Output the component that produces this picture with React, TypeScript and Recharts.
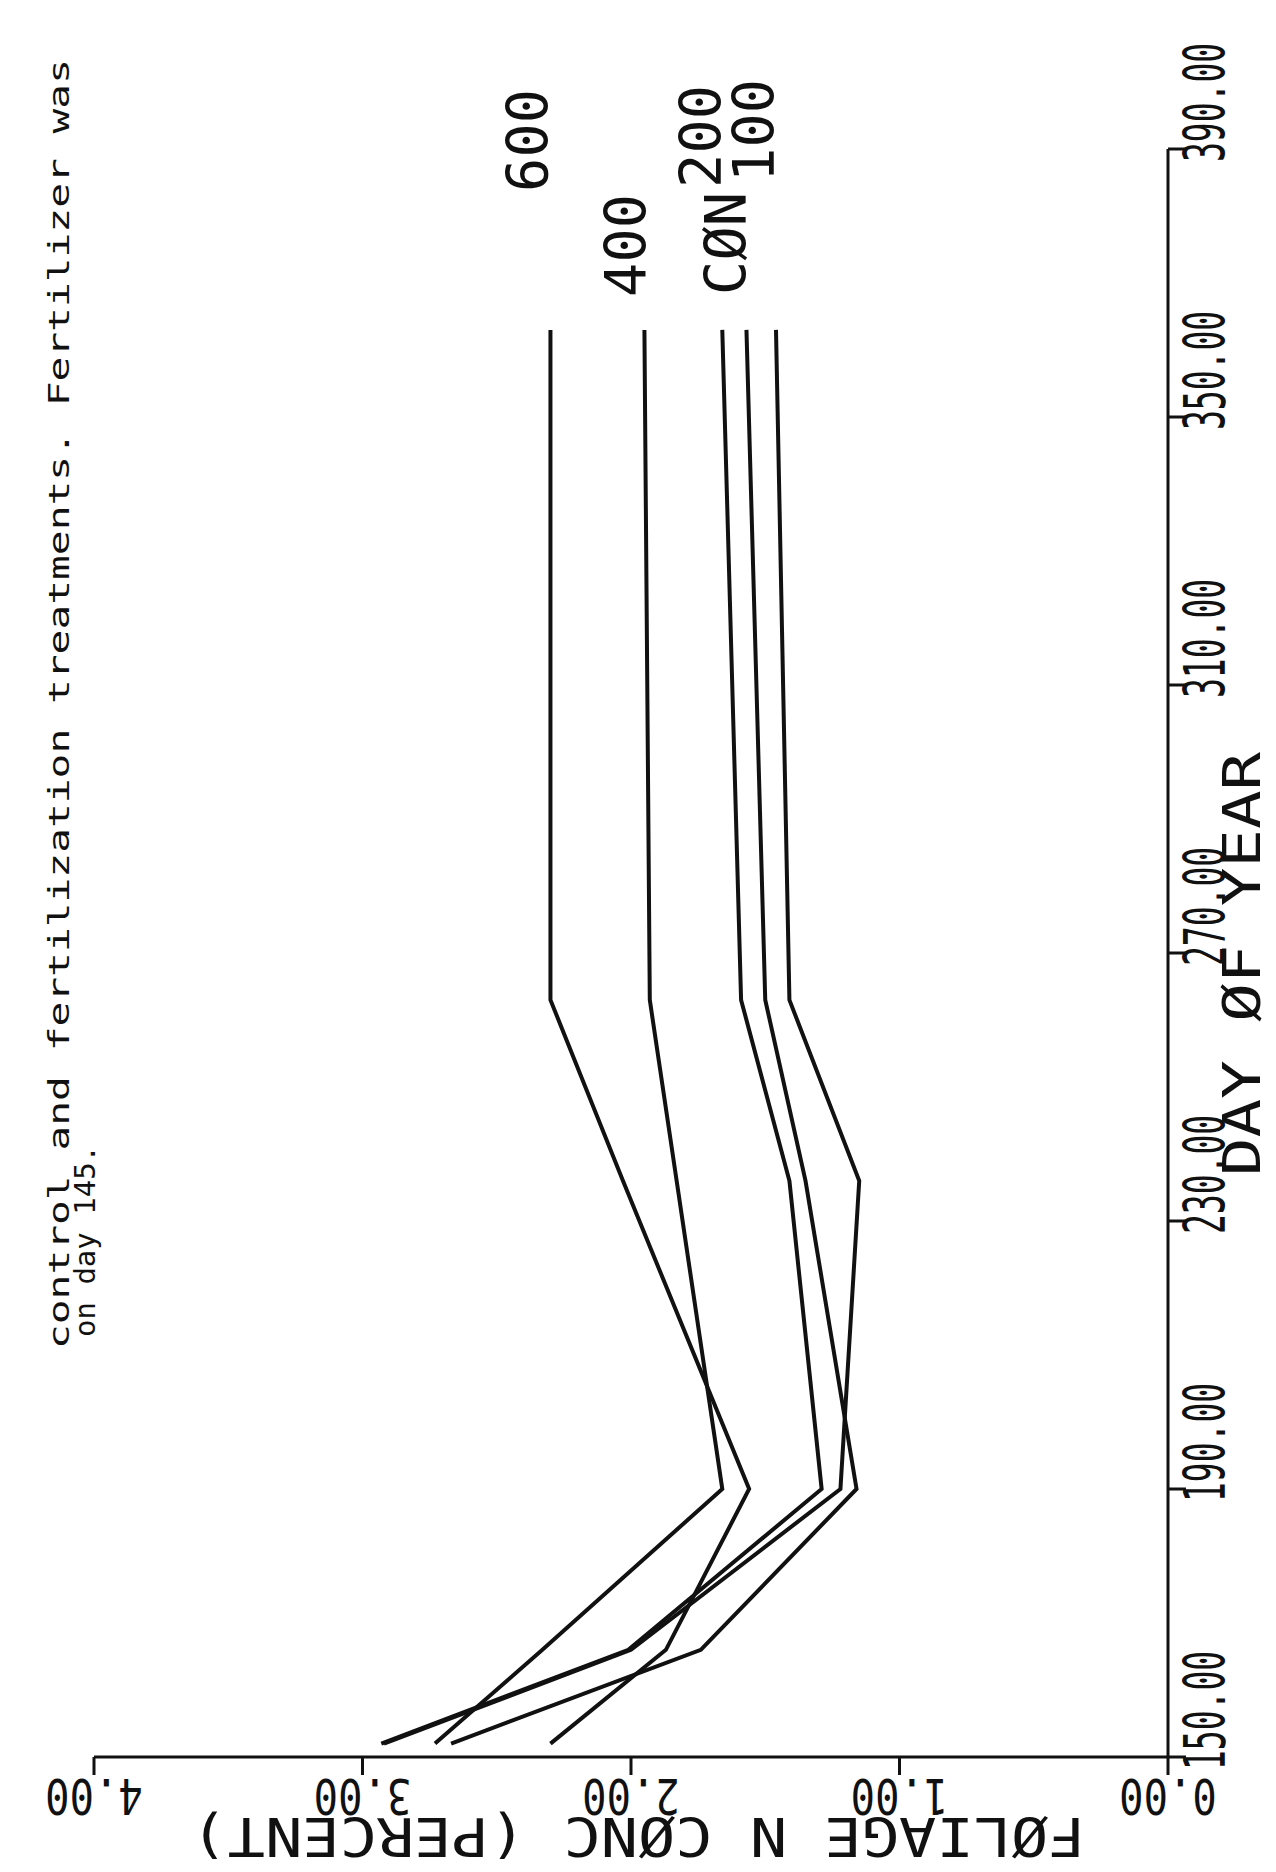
import React from 'react';
import { LineChart, Line, XAxis, YAxis } from 'recharts';

// Foliage N concentration (percent) by day of year, one list per treatment
const days = [152, 166, 190, 236, 263, 363];
const n600 = [2.3, 1.87, 1.56, 2.03, 2.3, 2.3];
const n400 = [2.73, 2.33, 1.66, 1.83, 1.93, 1.95];
const nCon = [2.93, 2.01, 1.29, 1.41, 1.59, 1.66];
const n200 = [2.67, 1.74, 1.16, 1.35, 1.5, 1.57];
const n100 = [2.92, 2.0, 1.22, 1.15, 1.41, 1.46];

const dayTicks = [150, 190, 230, 270, 310, 350, 390];
const concTicks = [0, 1, 2, 3, 4];

const rows = days.map((day, i) => ({
  day,
  n600: n600[i],
  n400: n400[i],
  nCon: nCon[i],
  n200: n200[i],
  n100: n100[i]
}));

// end-of-line labels, offsets are in the upright (unrotated) chart
const series = [
  { key: 'n600', name: '600', dx: 138, dy: -2 },
  { key: 'n400', name: '400', dx: 33, dy: 2 },
  { key: 'nCon', name: 'CØN', dx: 35, dy: 24 },
  { key: 'n200', name: '200', dx: 142, dy: -25 },
  { key: 'n100', name: '100', dx: 148, dy: -2 }
];

const MONO = '"DejaVu Sans Mono", "Liberation Mono", monospace';
const INK = '#111';

// upright size; the whole chart is turned a quarter to the left
const W = 1872;
const H = 1276;

// plotter digits are tall and narrow: small font, stretched across the axis
const DayTick = ({ x, y, payload }: any) => (
  <text
    transform={`translate(${x - 13} ${y + 39}) scale(1 1.7)`}
    fill={INK}
    fontFamily={MONO}
    fontSize={33}
  >
    {Number(payload.value).toFixed(2)}
  </text>
);

const ConcTick = ({ x, y, payload }: any) => (
  <text
    transform={`translate(${x} ${y}) rotate(-90) scale(0.9 1.1)`}
    fill={INK}
    fontFamily={MONO}
    fontSize={45}
    textAnchor="middle"
  >
    {Number(payload.value).toFixed(2)}
  </text>
);

const endLabel = (text: string, dx: number, dy: number) => (props: any) => {
  if (props.index !== days.length - 1) return null;
  return (
    <text
      key={text}
      x={props.x + dx}
      y={props.y + dy}
      fill={INK}
      fontFamily={MONO}
      fontSize={57}
    >
      {text}
    </text>
  );
};

const App: React.FC = () => {
  return (
    <div
      style={{
        position: 'absolute',
        left: 0,
        top: 0,
        width: 1276,
        height: 1872,
        overflow: 'hidden',
        background: '#fff'
      }}
    >
      <div
        style={{
          position: 'absolute',
          left: 0,
          top: 1872,
          width: W,
          height: H,
          transform: 'rotate(-90deg)',
          transformOrigin: '0 0'
        }}
      >
        <LineChart
          width={W}
          height={H}
          data={rows}
          margin={{ top: 94, right: 149, bottom: 0, left: 0 }}
        >
          <XAxis
            type="number"
            dataKey="day"
            domain={[150, 390]}
            ticks={dayTicks}
            height={108}
            tickSize={18}
            tickMargin={0}
            axisLine={{ stroke: INK, strokeWidth: 3 }}
            tickLine={{ stroke: INK, strokeWidth: 3 }}
            tick={<DayTick />}
            interval={0}
          />
          <YAxis
            type="number"
            domain={[0, 4]}
            ticks={concTicks}
            width={115}
            tickSize={18}
            tickMargin={4}
            axisLine={{ stroke: INK, strokeWidth: 3 }}
            tickLine={{ stroke: INK, strokeWidth: 3 }}
            tick={<ConcTick />}
            interval={0}
          />
          {series.map((s) => (
            <Line
              key={s.key}
              type="linear"
              dataKey={s.key}
              stroke={INK}
              strokeWidth={4}
              dot={false}
              label={endLabel(s.name, s.dx, s.dy)}
              isAnimationActive={false}
            />
          ))}
        </LineChart>

        {/* caption and axis titles */}
        <svg
          width={W}
          height={H}
          style={{ position: 'absolute', left: 0, top: 0, pointerEvents: 'none' }}
        >
          <text
            x={523}
            y={69}
            fill={INK}
            fontFamily={MONO}
            fontSize={29}
            textLength={1290}
            lengthAdjust="spacingAndGlyphs"
          >
            control and fertilization treatments.  Fertilizer was
          </text>
          <text x={535} y={95} fill={INK} fontFamily={MONO} fontSize={29}>
            on day 145.
          </text>
          <text
            x={696}
            y={1260}
            fill={INK}
            fontFamily={MONO}
            fontSize={52}
            textLength={424}
            lengthAdjust="spacingAndGlyphs"
          >
            DAY ØF YEAR
          </text>
          <text
            x={54}
            y={638}
            fill={INK}
            fontFamily={MONO}
            fontSize={54}
            textAnchor="middle"
            textLength={895}
            lengthAdjust="spacingAndGlyphs"
            transform="rotate(-90 54 638)"
          >
            FØLIAGE N CØNC (PERCENT)
          </text>
        </svg>
      </div>
    </div>
  );
};

export default App;
